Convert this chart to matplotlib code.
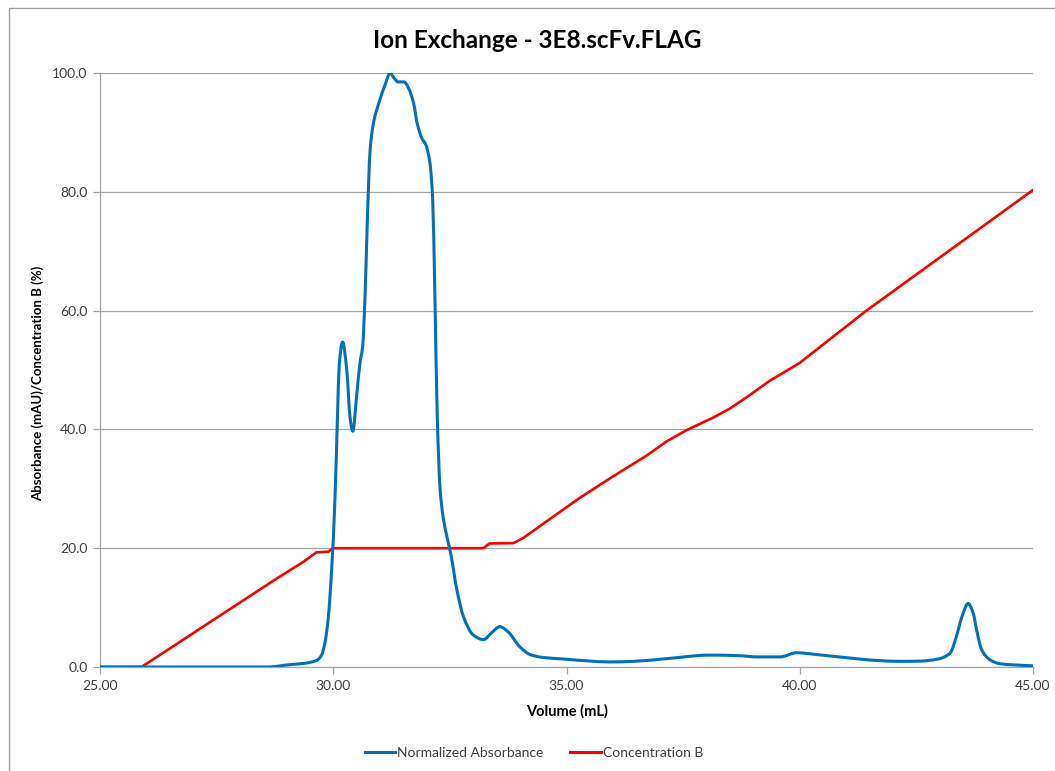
import matplotlib
matplotlib.use("Agg")
import matplotlib.pyplot as plt
from matplotlib.patches import Rectangle, PathPatch
from matplotlib.path import Path
from matplotlib.lines import Line2D

plt.rcParams['font.family'] = ['Lato', 'DejaVu Sans']

# Normalized absorbance trace (mAU, normalized to the main peak)
vol_abs = [25.0, 28.6, 29.07, 29.36, 29.64, 29.75, 29.82, 29.89, 29.97, 30.04,
           30.09, 30.13, 30.20, 30.29, 30.36, 30.42, 30.50, 30.57, 30.63, 30.68,
           30.73, 30.79, 30.86, 31.0, 31.11, 31.22, 31.29, 31.39, 31.52, 31.61,
           31.72, 31.80, 31.90, 31.98, 32.07, 32.13, 32.18, 32.23, 32.29, 32.36,
           32.45, 32.52, 32.65, 32.79, 33.0, 33.22, 33.40, 33.57, 33.75, 34.0,
           34.22, 34.50, 34.93, 35.5, 35.93, 36.43, 37.14, 38.07, 38.72, 39.07,
           39.58, 39.93, 40.36, 41.08, 41.65, 42.15, 42.6, 42.97, 43.22, 43.36,
           43.47, 43.61, 43.72, 43.79, 43.9, 44.08, 44.29, 44.6, 45.0]
absorbance = [0.0, 0.0, 0.4, 0.6, 1.1, 2.0, 4.0, 8.0, 17.0, 29.0,
              42.0, 51.0, 54.7, 50.0, 42.0, 39.7, 45.5, 51.0, 54.0, 62.0,
              75.0, 87.0, 91.5, 95.5, 98.0, 100.0, 99.3, 98.5, 98.5, 97.5,
              95.0, 91.5, 89.0, 88.0, 85.0, 79.0, 62.0, 42.0, 30.0, 25.0,
              21.5, 19.0, 13.0, 8.5, 5.4, 4.6, 5.8, 6.8, 5.9, 3.4,
              2.1, 1.6, 1.35, 1.0, 0.85, 0.95, 1.4, 2.0, 1.9, 1.7,
              1.7, 2.4, 2.1, 1.5, 1.1, 0.95, 1.0, 1.35, 2.3, 5.2,
              8.3, 10.7, 9.0, 6.3, 2.9, 1.2, 0.55, 0.35, 0.2]

# Buffer B gradient (%)
vol_conc = [25.0, 25.89, 27.64, 28.79, 29.36, 29.64, 29.89, 30.0, 33.22, 33.35,
            33.86, 34.07, 34.57, 35.29, 36.0, 36.72, 37.15, 37.58, 38.15, 38.5,
            38.86, 39.36, 40.0, 41.43, 45.0]
conc_b = [0.0, 0.0, 9.0, 14.9, 17.7, 19.3, 19.4, 20.0, 20.0, 20.8,
          20.85, 21.7, 24.5, 28.5, 32.1, 35.6, 38.0, 39.9, 42.0, 43.5,
          45.4, 48.2, 51.2, 60.0, 80.3]

x_ticks = [25, 30, 35, 40, 45]
y_ticks = [0, 20, 40, 60, 80, 100]


def smooth_path(xs, ys):
    """Smoothed line through every point: cubic Hermite segments drawn as Beziers."""
    n = len(xs)
    d = [(ys[i + 1] - ys[i]) / (xs[i + 1] - xs[i]) for i in range(n - 1)]
    m = [0.0] * n
    m[0], m[-1] = d[0], d[-1]
    for i in range(1, n - 1):
        if d[i - 1] * d[i] <= 0:
            m[i] = 0.0
        else:
            h0 = xs[i] - xs[i - 1]
            h1 = xs[i + 1] - xs[i]
            w1, w2 = 2 * h1 + h0, h1 + 2 * h0
            m[i] = (w1 + w2) / (w1 / d[i - 1] + w2 / d[i])
    verts = [(xs[0], ys[0])]
    codes = [Path.MOVETO]
    for i in range(n - 1):
        h = xs[i + 1] - xs[i]
        verts += [(xs[i] + h / 3, ys[i] + m[i] * h / 3),
                  (xs[i + 1] - h / 3, ys[i + 1] - m[i + 1] * h / 3),
                  (xs[i + 1], ys[i + 1])]
        codes += [Path.CURVE4] * 3
    return Path(verts, codes)


W, H = 1055, 771
fig = plt.figure(figsize=(W / 100, H / 100), dpi=100)
ax = fig.add_axes([100 / W, 1 - 667 / H, (1033 - 100) / W, (667 - 73) / H])

grid_col = '#A6A6A6'
text_col = '#404040'
blue = '#0070C0'
red = '#FF0000'

ax.plot(vol_conc, conc_b, color=red, lw=1.9, solid_joinstyle='round', zorder=3)
ax.add_patch(PathPatch(smooth_path(vol_abs, absorbance), facecolor='none',
                       edgecolor=blue, lw=2.2, joinstyle='round',
                       capstyle='round', zorder=4))

ax.set_xlim(25, 45)
ax.set_ylim(0, 100)
ax.set_xticks(x_ticks)
ax.set_yticks(y_ticks)
ax.set_xticklabels([f'{v:.2f}' for v in x_ticks])
ax.set_yticklabels([f'{v:.1f}' for v in y_ticks])
ax.yaxis.grid(True, color=grid_col, lw=0.9)
ax.set_axisbelow(True)

for side in ('top', 'right'):
    ax.spines[side].set_visible(False)
for side in ('left', 'bottom'):
    ax.spines[side].set_color(grid_col)
    ax.spines[side].set_linewidth(0.9)

ax.tick_params(axis='both', direction='out', length=5, width=0.9,
               color=grid_col, labelsize=10, labelcolor=text_col)
ax.tick_params(axis='x', pad=4)
ax.tick_params(axis='y', pad=4)

fig.text(567 / W, 1 - 711 / H, 'Volume (mL)', ha='center', va='center',
         fontsize=10.5, fontweight='bold', color='black')
fig.text(38 / W, 1 - 383 / H, 'Absorbance (mAU)/Concentration B (%)',
         ha='center', va='center', rotation=90, fontsize=9.5,
         fontweight='bold', color='black')
fig.text(537 / W, 1 - 40 / H, 'Ion Exchange - 3E8.scFv.FLAG', ha='center',
         va='center', fontsize=17.5, fontweight='bold', color='black')

handles = [Line2D([], [], color=blue, lw=2.2),
           Line2D([], [], color=red, lw=2.2)]
fig.legend(handles=handles, labels=['Normalized Absorbance', 'Concentration B'],
           loc='center', bbox_to_anchor=(534 / W, 1 - 753 / H), ncol=2,
           frameon=False, fontsize=10, handlelength=2.2, handletextpad=0.15,
           columnspacing=1.9, labelcolor=text_col)

# chart-area frame
fig.patches.append(Rectangle((9 / W, -0.1), 1.2, 1 - 8 / H + 0.1,
                             transform=fig.transFigure, fill=False,
                             edgecolor='#A0A0A0', lw=1.0))

fig.savefig('out.png', dpi=100)
